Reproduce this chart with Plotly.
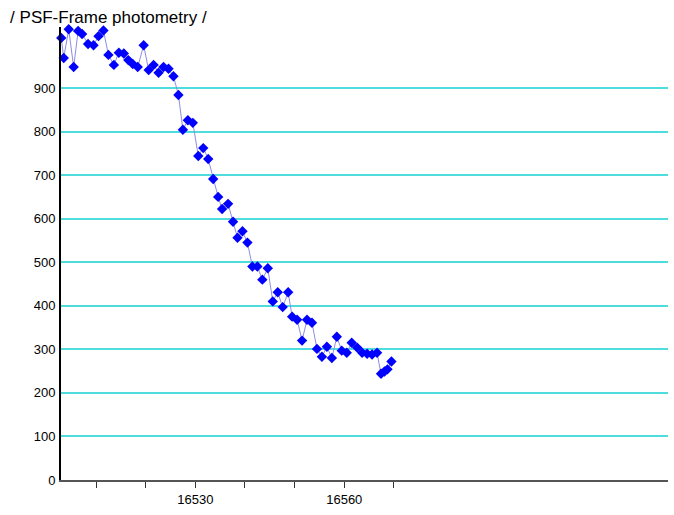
import plotly.graph_objects as go

# Observation times (days) and PSF-frame photometry values
times = [
    16503.0, 16503.5, 16504.5, 16505.5, 16506.4, 16507.2, 16508.4, 16509.5,
    16510.5, 16511.5, 16512.5, 16513.6, 16514.6, 16515.6, 16516.5, 16517.4,
    16518.4, 16519.6, 16520.6, 16521.6, 16522.6, 16523.6, 16524.6, 16525.6,
    16526.6, 16527.5, 16528.5, 16529.5, 16530.6, 16531.6, 16532.6, 16533.6,
    16534.6, 16535.4, 16536.6, 16537.6, 16538.5, 16539.5, 16540.5, 16541.5,
    16542.5, 16543.5, 16544.6, 16545.6, 16546.6, 16547.6, 16548.7, 16549.5,
    16550.5, 16551.5, 16552.5, 16553.5, 16554.5, 16555.5, 16556.5, 16557.5,
    16558.5, 16559.5, 16560.5, 16561.5, 16562.6, 16563.6, 16564.6, 16565.6,
    16566.6, 16567.4, 16568.1, 16568.7, 16569.5,
]
flux = [
    1015, 969, 1035, 948, 1031, 1024, 1001, 998,
    1019, 1032, 976, 953, 981, 979, 964, 955,
    948, 998, 941, 953, 935, 948, 944, 927,
    884, 804, 826, 820, 744, 762, 737, 691,
    650, 622, 634, 593, 556, 571, 545, 490,
    490, 460, 486, 410, 431, 397, 431, 375,
    368, 320, 368, 361, 301, 283, 306, 280,
    329, 297, 292, 315, 304, 292, 290, 288,
    292, 244, 249, 254, 272,
]

x_tick_vals = [16510, 16520, 16530, 16540, 16550, 16560, 16570]
x_tick_text = ["", "", "16530", "", "", "16560", ""]
y_tick_vals = [0, 100, 200, 300, 400, 500, 600, 700, 800, 900]

tick_font = dict(family="Liberation Sans Narrow, Arial Narrow, Liberation Sans, Arial",
                 size=13, color="#000000")

fig = go.Figure()
fig.add_trace(go.Scatter(
    x=times, y=flux,
    mode="lines+markers",
    line=dict(color="#8c8ce6", width=1),
    marker=dict(symbol="diamond", size=8, color="#0000ff"),
    cliponaxis=False,
    showlegend=False,
))

fig.update_layout(
    width=674, height=515,
    margin=dict(l=61, r=6, t=27, b=35),
    paper_bgcolor="white", plot_bgcolor="white",
    title=dict(
        text="/ PSF-Frame photometry /",
        x=0.015, xanchor="left", y=0.966, yanchor="middle",
        font=dict(family="Liberation Sans, Arial", size=17, color="#000000"),
    ),
    xaxis=dict(
        range=[16502.95, 16625.2],
        tickmode="array", tickvals=x_tick_vals, ticktext=x_tick_text,
        ticks="outside", ticklen=6, tickwidth=1, tickcolor="#333333",
        showgrid=False, zeroline=False,
        showline=True, linecolor="#555555", linewidth=2,
        tickfont=tick_font,
    ),
    yaxis=dict(
        range=[0, 1040],
        tickmode="array", tickvals=y_tick_vals,
        ticks="", ticklabelstandoff=1,
        showgrid=True, gridcolor="#4fdcdc", gridwidth=2,
        zeroline=False,
        showline=True, linecolor="#000000", linewidth=2,
        tickfont=tick_font,
    ),
)

fig.write_html("out.html")
